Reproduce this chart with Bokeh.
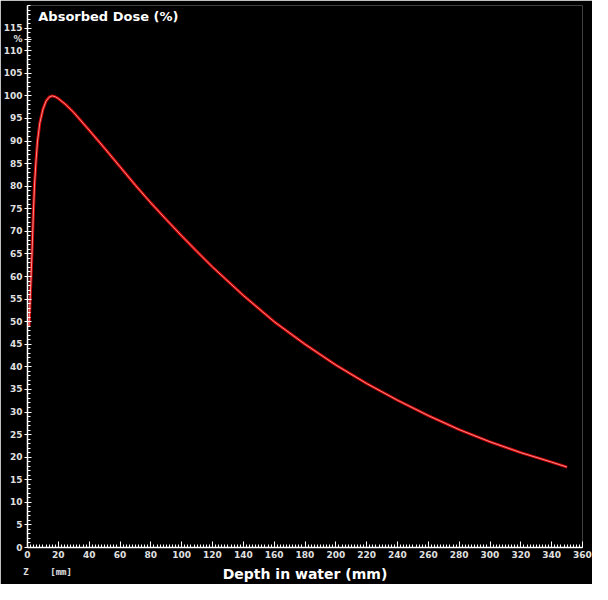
from bokeh.plotting import figure
from bokeh.models import Range1d, FixedTicker, LinearAxis, Label
from bokeh.embed import file_html
from bokeh.resources import INLINE

depth_mm = [1.0, 1.5, 2.2, 3.0, 3.7, 4.5, 5.5, 6.5, 8, 10, 12, 14, 16, 18, 20, 25, 30,
            40, 50, 60, 70, 80, 90, 100, 110, 120, 140, 160, 180, 200, 220, 240, 260,
            280, 300, 320, 340, 350]
dose_pct = [49, 53, 59, 66, 73, 80, 85.5, 90, 94, 97, 98.8, 99.7, 100, 99.8, 99.4, 98.0, 96.3,
            92.4, 88.4, 84.3, 80.2, 76.3, 72.6, 69, 65.5, 62.1, 55.8, 50, 45, 40.4, 36.3, 32.6, 29.2,
            26.1, 23.4, 21, 18.9, 17.8]

x_ticks = list(range(0, 361, 20))
x_minor = list(range(0, 361, 2))
y_ticks = list(range(0, 116, 5)) + [112.5]
y_minor = list(range(0, 121, 1))
NB = "\u00a0"
unit_tick = [13]
unit_overrides = {13: "Z" + NB * 4 + "[mm]"}
y_overrides = {112.5: "%"}

p = figure(width=592, height=584, output_backend="svg", toolbar_location=None,
           x_range=Range1d(0, 360), y_range=Range1d(0, 120),
           background_fill_color="black", border_fill_color="black",
           min_border_left=22, min_border_right=10, min_border_top=5, min_border_bottom=20)
p.outline_line_color = None
p.grid.visible = False

p.line(depth_mm, dose_pct, line_color="#e00000", line_width=3, line_alpha=0.9)
p.line(depth_mm, dose_pct, line_color="#ffb0b0", line_width=0.8)

for ax in (p.xaxis[0], p.yaxis[0]):
    ax.axis_line_color = "white"
    ax.axis_line_width = 1.5
    ax.major_tick_line_color = "white"
    ax.minor_tick_line_color = "white"
    ax.major_label_text_color = "#e0e0e0"
    ax.major_label_text_font = "DejaVu Sans"
    ax.major_label_text_font_style = "bold"
    ax.major_label_text_font_size = "9px"

p.xaxis.ticker = FixedTicker(ticks=x_ticks, minor_ticks=x_minor)
p.xaxis.major_tick_in = 6
p.xaxis.major_tick_out = 0
p.xaxis.minor_tick_in = 3
p.xaxis.minor_tick_out = 0
p.xaxis.major_label_standoff = 3

ax2 = LinearAxis(ticker=FixedTicker(ticks=unit_tick, minor_ticks=[]),
                 major_label_overrides=unit_overrides,
                 axis_line_color=None, major_tick_line_color=None, minor_tick_line_color=None,
                 major_tick_in=0, major_tick_out=0, minor_tick_in=0, minor_tick_out=0,
                 major_label_standoff=6,
                 major_label_text_color="#e0e0e0", major_label_text_font="DejaVu Sans Mono",
                 major_label_text_font_style="bold", major_label_text_font_size="9px",
                 axis_label="Depth in water (mm)", axis_label_text_color="white",
                 axis_label_text_font="DejaVu Sans", axis_label_text_font_style="bold",
                 axis_label_text_font_size="14px", axis_label_standoff=-14)
p.add_layout(ax2, "below")

p.yaxis.ticker = FixedTicker(ticks=y_ticks, minor_ticks=y_minor)
p.yaxis.major_label_overrides = y_overrides
p.yaxis.major_tick_in = 4
p.yaxis.major_tick_out = 3
p.yaxis.minor_tick_in = 3
p.yaxis.minor_tick_out = 0
p.yaxis.major_label_standoff = 2

p.add_layout(Label(x=7, y=119.3, text="Absorbed Dose (%)", text_color="white",
                   text_font="DejaVu Sans", text_font_style="bold", text_font_size="13px",
                   text_baseline="top"))

open("out.html", "w").write(file_html(p, INLINE))
